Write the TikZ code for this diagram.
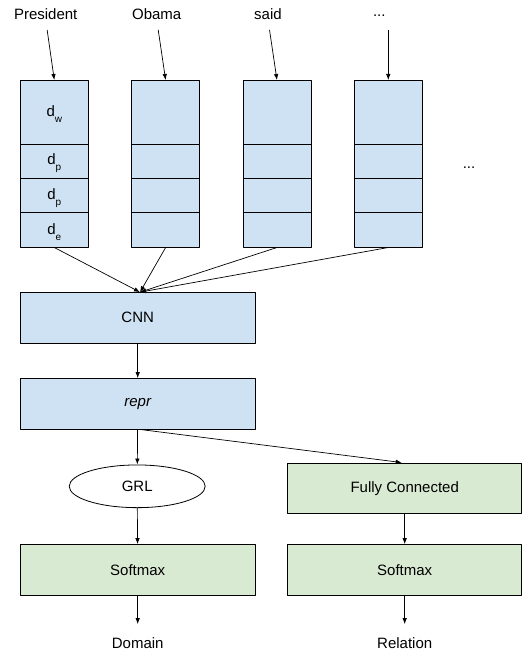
\documentclass[tikz,border=0pt]{standalone}
\usepackage{fontspec}
\setmainfont{Liberation Sans}
\usetikzlibrary{arrows.meta,shapes.geometric}
\definecolor{boxblue}{HTML}{CFE2F3}
\definecolor{boxgreen}{HTML}{D9EAD3}
\newcommand{\dsub}[1]{d\raisebox{-6pt}{\fontsize{10}{12}\selectfont #1}}

\begin{document}
\begin{tikzpicture}[x=1pt, y=-1pt, line cap=round, line join=round,
    every node/.style={font=\fontsize{15}{18}\selectfont},
    cell/.style={draw, line width=0.8pt, fill=boxblue, minimum width=68pt, inner sep=0pt, anchor=north},
    layer/.style={draw, line width=0.8pt, fill=#1, minimum width=234.7pt, minimum height=50.5pt, inner sep=0pt},
    word/.style={inner sep=0pt, text height=11pt, text depth=0pt},
    arr/.style={-{Latex[length=6pt,width=4.5pt]}, line width=0.7pt}]

    \useasboundingbox (0,0) rectangle (532,655);

    % input words
    \node[word] (w1) at (45.7,14) {President};
    \node[word] (w2) at (156.7,14) {Obama};
    \node[word] (w3) at (268,14) {said};
    \node[word] (w4) at (379.3,11.5) {...};

    % embedding columns
    \foreach \i in {1,...,4}{
        \pgfmathsetmacro\cx{54.3+111.33*(\i-1)}
        \node[cell, minimum height=64pt] (c\i-w) at (\cx,80) {};
        \node[cell, minimum height=34.3pt] (c\i-p) at (\cx,144) {};
        \node[cell, minimum height=34pt] (c\i-q) at (\cx,178.3) {};
        \node[cell, minimum height=34.4pt] (c\i-e) at (\cx,212.3) {};
    }
    \node at ([yshift=-2pt]c1-w) {\dsub{w}};
    \node at ([yshift=-2pt]c1-p) {\dsub{p}};
    \node at ([yshift=-2pt]c1-q) {\dsub{p}};
    \node at ([yshift=-2pt]c1-e) {\dsub{e}};
    \node[word, anchor=base] (more) at (469,168) {...};

    \draw[arr, shorten <=10.5pt] (w1.south) -- (c1-w.north);
    \draw[arr, shorten <=10.5pt] (w2.south) -- (c2-w.north);
    \draw[arr, shorten <=10.5pt] (w3.south) -- (c3-w.north);
    \draw[arr, shorten <=13pt] (c4-w.north |- w4.south) -- (c4-w.north);

    % network
    \node[layer=boxblue] (cnn) at (137.7,317.8) {CNN};
    \node[layer=boxblue] (repr) at (137.7,403.8) {\itshape repr};
    \node[draw, line width=0.8pt, ellipse, fill=white, minimum width=136pt, minimum height=42.7pt, inner sep=0pt] (grl) at (137.2,486.3) {GRL};
    \node[layer=boxgreen, minimum width=234pt, minimum height=50.7pt] (fc) at (404.7,488.3) {Fully Connected};
    \node[layer=boxgreen] (sm1) at (137.7,569.8) {Softmax};
    \node[layer=boxgreen, minimum width=234pt] (sm2) at (404.7,569.8) {Softmax};
    \node[word] (dom) at (137.7,643.3) {Domain};
    \node[word] (rel) at (404.7,643.3) {Relation};

    \coordinate (hub) at ([xshift=2.3pt]cnn.north);
    \foreach \i in {1,...,4}
        \draw[arr] (c\i-e.south) -- (hub);

    \draw[arr] (cnn) -- (repr);
    \draw[arr] (repr) -- (grl);
    \draw[arr] ([xshift=2.3pt]repr.south) -- ([xshift=-3pt]fc.north);
    \draw[arr] (grl) -- (sm1);
    \draw[arr] (fc) -- (sm2);
    \draw[arr, shorten >=13.5pt] (sm1.south) -- (dom.north);
    \draw[arr, shorten >=13.5pt] (sm2.south) -- (rel.north);

\end{tikzpicture}
\end{document}
